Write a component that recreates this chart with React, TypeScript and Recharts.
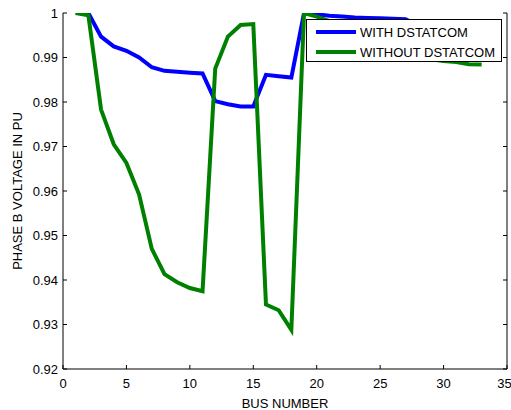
import { LineChart, Line, XAxis, YAxis, Legend } from 'recharts';

const buses = [
  1, 2, 3, 4, 5, 6, 7, 8, 9, 10, 11, 12, 13, 14, 15, 16, 17,
  18, 19, 20, 21, 22, 23, 24, 25, 26, 27, 28, 29, 30, 31, 32, 33,
];

const withDstatcom = [
  1.0, 1.0, 0.9947, 0.9925, 0.9915, 0.99, 0.9878, 0.987, 0.9868, 0.9866, 0.9864,
  0.9802, 0.9795, 0.979, 0.979, 0.9861, 0.9858, 0.9855, 1.0, 0.9997, 0.9994,
  0.9992, 0.999, 0.9989, 0.9988, 0.9987, 0.9986, 0.9972, 0.997, 0.9968, 0.9967,
  0.9967, 0.9967,
];

const withoutDstatcom = [
  1.0, 0.9995, 0.9783, 0.9705, 0.9663, 0.9592, 0.947, 0.9413, 0.9395, 0.9382,
  0.9375, 0.9875, 0.9947, 0.9973, 0.9975, 0.9345, 0.9332, 0.9288, 1.0, 0.9992,
  0.9982, 0.997, 0.9962, 0.9952, 0.9942, 0.993, 0.992, 0.9905, 0.9896, 0.9892,
  0.989, 0.9885, 0.9884,
];

const xTicks = [0, 5, 10, 15, 20, 25, 30, 35];
const yTicks = [0.92, 0.93, 0.94, 0.95, 0.96, 0.97, 0.98, 0.99, 1];

const seriesNames = ['WITH DSTATCOM', 'WITHOUT DSTATCOM'];
const seriesColors = ['#0000ff', '#008000'];

const data = buses.map((b, i) => ({
  bus: b,
  withD: withDstatcom[i],
  withoutD: withoutDstatcom[i],
}));

const font = 'Liberation Sans, Arial, sans-serif';
const tickStyle = { fontSize: 13, fill: '#000', fontFamily: font };

function LegendBox() {
  return (
    <div
      style={{
        width: 194,
        height: 41,
        border: '1px solid #000',
        background: '#fff',
        fontFamily: font,
        fontSize: 13,
        color: '#000',
        boxSizing: 'content-box',
      }}
    >
      {seriesNames.map((name, i) => (
        <div
          key={name}
          style={{ display: 'flex', alignItems: 'center', height: 20, marginTop: i === 0 ? 2 : 0 }}
        >
          <span
            style={{
              display: 'inline-block',
              width: 40,
              height: 4,
              background: seriesColors[i],
              marginLeft: 9,
              marginRight: 4,
            }}
          />
          <span>{name}</span>
        </div>
      ))}
    </div>
  );
}

export default function App() {
  return (
    <div style={{ position: 'absolute', left: 0, top: 0, width: 511, height: 410, background: '#fff' }}>
      <LineChart
        width={511}
        height={410}
        data={data}
        margin={{ top: 13, right: 0, bottom: 0, left: 0 }}
      >
        <XAxis
          dataKey="bus"
          type="number"
          domain={[0, 35]}
          ticks={xTicks}
          allowDataOverflow
          height={41}
          stroke="#000"
          tickSize={-4}
          tickMargin={14}
          tick={tickStyle}
          label={{
            value: 'BUS NUMBER',
            position: 'insideBottom',
            offset: 2,
            style: { fontSize: 13, fill: '#000', fontFamily: font },
          }}
        />
        <XAxis
          xAxisId="top"
          orientation="top"
          dataKey="bus"
          type="number"
          domain={[0, 35]}
          ticks={xTicks}
          allowDataOverflow
          height={0}
          stroke="#000"
          tickSize={-4}
          tickFormatter={() => ''}
        />
        <YAxis
          type="number"
          domain={[0.92, 1]}
          ticks={yTicks}
          allowDataOverflow
          width={63}
          stroke="#000"
          tickSize={-4}
          tickMargin={9}
          tick={tickStyle}
          tickFormatter={(v: number) => String(+v.toFixed(2))}
          label={{
            value: 'PHASE B VOLTAGE IN PU',
            angle: -90,
            position: 'insideLeft',
            offset: 17,
            style: { fontSize: 13, fill: '#000', fontFamily: font, textAnchor: 'middle' },
          }}
        />
        <YAxis
          yAxisId="right"
          orientation="right"
          type="number"
          domain={[0.92, 1]}
          ticks={yTicks}
          allowDataOverflow
          width={4}
          stroke="#000"
          tickSize={-4}
          tickFormatter={() => ''}
        />
        <Legend
          layout="vertical"
          align="center"
          verticalAlign="middle"
          wrapperStyle={{ left: 306, top: 19, width: 196 }}
          content={() => <LegendBox />}
        />
        <Line
          dataKey="withD"
          name={seriesNames[0]}
          type="linear"
          stroke={seriesColors[0]}
          strokeWidth={4}
          dot={false}
          isAnimationActive={false}
        />
        <Line
          dataKey="withoutD"
          name={seriesNames[1]}
          type="linear"
          stroke={seriesColors[1]}
          strokeWidth={4}
          dot={false}
          isAnimationActive={false}
        />
      </LineChart>
    </div>
  );
}
